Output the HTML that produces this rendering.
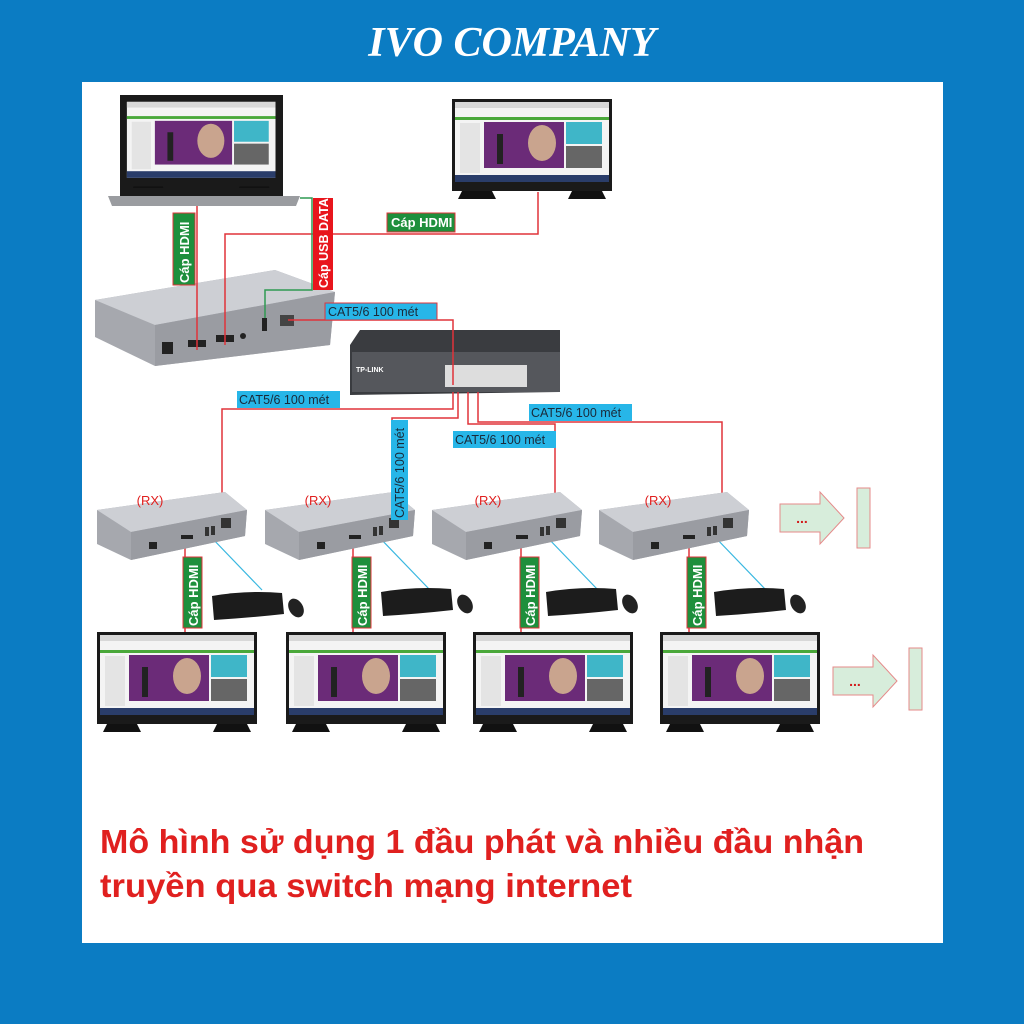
<!DOCTYPE html>
<html><head><meta charset="utf-8"><style>
html,body{margin:0;padding:0;background:#0b7cc3;}
body{width:1024px;height:1024px;position:relative;overflow:hidden;font-family:"Liberation Sans",sans-serif;}
</style></head><body>
<svg width="1024" height="1024" viewBox="0 0 1024 1024" xmlns="http://www.w3.org/2000/svg" style="position:absolute;left:0;top:0">
<defs>
<g id="mon">
 <rect x="0" y="0" width="160" height="92" fill="#1a1a1a"/>
 <rect x="3" y="3" width="154" height="80" fill="#f4f4f4"/>
 <rect x="3" y="3" width="154" height="6" fill="#d8d8d8"/>
 <rect x="3" y="18" width="154" height="3" fill="#4aa83a"/>
 <rect x="8" y="24" width="20" height="50" fill="#e4e4e4"/>
 <rect x="32" y="23" width="80" height="46" fill="#6b2b78"/>
 <ellipse cx="90" cy="44" rx="14" ry="18" fill="#c9a48e"/>
 <rect x="45" y="35" width="6" height="30" fill="#222"/>
 <rect x="114" y="23" width="36" height="22" fill="#3fb6c8"/>
 <rect x="114" y="47" width="36" height="22" fill="#666"/>
 <rect x="3" y="76" width="154" height="7" fill="#2a3d6a"/>
 <path d="M10 92 L40 92 L44 100 L6 100Z M120 92 L150 92 L154 100 L116 100Z" fill="#111"/>
</g>
<g id="rx">
 <polygon points="0,18 128,0 150,18 148,44 34,68 0,52" fill="#a6a8ae"/>
 <polygon points="0,18 128,0 150,18 34,40" fill="#cdcfd4"/>
 <polygon points="34,40 150,18 148,44 34,68" fill="#9a9ca2"/>
 <rect x="52" y="50" width="8" height="7" fill="#222"/>
 <rect x="84" y="43" width="12" height="4" fill="#222"/>
 <rect x="108" y="35" width="4" height="9" fill="#333"/>
 <rect x="114" y="34" width="4" height="9" fill="#333"/>
 <rect x="124" y="26" width="10" height="10" fill="#333"/>
</g>
<g id="kb">
 <path d="M0 6 Q35 0 70 3 L72 24 Q36 28 2 30Z" fill="#1c1c1c"/>
 <ellipse cx="84" cy="18" rx="7" ry="10" fill="#222" transform="rotate(-30 84 18)"/>
</g>
<g id="arr">
 <polygon points="0,12 40,12 40,0 64,26 40,52 40,40 0,40" fill="#d7eddb" stroke="#e58a8a" stroke-width="1"/>
 <text x="22" y="31" font-size="14" font-weight="bold" fill="#d21c1c" text-anchor="middle">...</text>
</g>
</defs>
<text x="512" y="56" text-anchor="middle" font-family="Liberation Serif,serif" font-size="42" font-weight="bold" font-style="italic" fill="#fff">IVO COMPANY</text>
<rect x="82" y="82" width="861" height="861" fill="#fff"/>

<!-- laptop -->
<rect x="120" y="95" width="163" height="98" fill="#1a1a1a"/>
<g transform="translate(124,99) scale(0.965,0.95)"><use href="#mon"/></g>
<rect x="120" y="188" width="163" height="8" fill="#1a1a1a"/>
<path d="M108 196 L300 196 L296 206 L112 206Z" fill="#9a9ca0"/>
<!-- top monitor -->
<use href="#mon" x="452" y="99" transform="translate(0,0)"/>

<!-- transmitter -->
<polygon points="95,300 275,270 335,292 330,345 155,366 95,337" fill="#a6a8ae"/>
<polygon points="95,300 275,270 335,292 155,325" fill="#cdcfd4"/>
<polygon points="155,325 335,292 330,345 155,366" fill="#9a9ca2"/>
<rect x="162" y="342" width="11" height="12" fill="#222"/>
<rect x="188" y="340" width="18" height="7" fill="#222"/>
<rect x="216" y="335" width="18" height="7" fill="#222"/>
<circle cx="243" cy="336" r="3" fill="#222"/>
<rect x="262" y="318" width="5" height="13" fill="#222"/>
<rect x="280" y="315" width="14" height="11" fill="#444"/>

<!-- switch -->
<polygon points="360,330 560,330 560,392 350,395 350,345" fill="#3a3c40"/>
<rect x="352" y="352" width="208" height="40" fill="#55575c"/>
<rect x="445" y="365" width="82" height="22" fill="#ddd"/>
<text x="356" y="372" font-size="7" fill="#fff" font-weight="bold">TP-LINK</text>

<!-- lines -->
<g fill="none" stroke="#e0333a" stroke-width="1.5">
 <path d="M197 206 V350"/>
 <path d="M225 345 V234 H538 V192"/>
 <path d="M288 320 H453 V385"/>
 <path d="M453 392 V409 H222 V518"/>
 <path d="M458 392 V418 H392 V525"/>
 <path d="M468 392 V424 H555 V520"/>
 <path d="M478 392 V422 H722 V520"/>
 <path d="M185 540 V632"/><path d="M353 540 V632"/><path d="M521 540 V632"/><path d="M689 540 V632"/>
</g>
<path d="M300 198 H312 V290 H265 V318" fill="none" stroke="#2f9a52" stroke-width="1.5"/>
<g stroke="#38b7e0" stroke-width="1.2">
 <line x1="210" y1="536" x2="262" y2="590"/><line x1="378" y1="536" x2="430" y2="590"/>
 <line x1="546" y1="536" x2="598" y2="590"/><line x1="714" y1="536" x2="766" y2="590"/>
</g>

<!-- RX boxes -->
<use href="#rx" x="97" y="492"/><use href="#rx" x="265" y="492"/><use href="#rx" x="432" y="492"/><use href="#rx" x="599" y="492"/>
<g fill="#e0201f" font-size="13" text-anchor="middle">
<text x="150" y="505">(RX)</text><text x="318" y="505">(RX)</text><text x="488" y="505">(RX)</text><text x="658" y="505">(RX)</text></g>
<use href="#kb" x="212" y="590"/><use href="#kb" x="381" y="586"/><use href="#kb" x="546" y="586"/><use href="#kb" x="714" y="586"/>

<!-- bottom monitors -->
<use href="#mon" x="97" y="632"/><use href="#mon" x="286" y="632"/><use href="#mon" x="473" y="632"/><use href="#mon" x="660" y="632"/>

<!-- arrows -->
<use href="#arr" x="780" y="492"/><rect x="857" y="488" width="13" height="60" fill="#d7eddb" stroke="#e58a8a"/>
<use href="#arr" x="833" y="655"/><rect x="909" y="648" width="13" height="62" fill="#d7eddb" stroke="#e58a8a"/>

<!-- labels -->
<g font-size="13" font-weight="bold" fill="#fff">
 <rect x="173" y="213" width="22" height="72" fill="#1e8f3c" stroke="#e0333a"/>
 <text transform="translate(189,283) rotate(-90)">Cáp HDMI</text>
 <rect x="313" y="198" width="20" height="92" fill="#e8151c"/>
 <text transform="translate(328,288) rotate(-90)" font-size="12.5">Cáp USB DATA</text>
 <rect x="387" y="213" width="68" height="19" fill="#1e8f3c" stroke="#e0333a"/>
 <text x="391" y="227">Cáp HDMI</text>
 <rect x="183" y="557" width="19" height="71" fill="#1e8f3c" stroke="#e0333a"/><text transform="translate(198,626) rotate(-90)">Cáp HDMI</text>
 <rect x="352" y="557" width="19" height="71" fill="#1e8f3c" stroke="#e0333a"/><text transform="translate(367,626) rotate(-90)">Cáp HDMI</text>
 <rect x="520" y="557" width="19" height="71" fill="#1e8f3c" stroke="#e0333a"/><text transform="translate(535,626) rotate(-90)">Cáp HDMI</text>
 <rect x="687" y="557" width="19" height="71" fill="#1e8f3c" stroke="#e0333a"/><text transform="translate(702,626) rotate(-90)">Cáp HDMI</text>
</g>
<g font-size="12.5" fill="#1a2a3a">
 <rect x="325" y="303" width="112" height="17" fill="#27b6e8" stroke="#e0333a"/><text x="328" y="316">CAT5/6 100 mét</text>
 <rect x="237" y="391" width="103" height="17" fill="#27b6e8"/><text x="239" y="404">CAT5/6 100 mét</text>
 <rect x="529" y="404" width="103" height="17" fill="#27b6e8"/><text x="531" y="417">CAT5/6 100 mét</text>
 <rect x="453" y="431" width="103" height="17" fill="#27b6e8"/><text x="455" y="444">CAT5/6 100 mét</text>
 <rect x="391" y="420" width="17" height="100" fill="#27b6e8"/><text transform="translate(404,518) rotate(-90)">CAT5/6 100 mét</text>
</g>

<g font-size="33" fill="#e0201f" font-weight="bold" font-family="Liberation Sans,sans-serif">
<text x="100" y="853" textLength="764" lengthAdjust="spacingAndGlyphs">Mô hình sử dụng 1 đầu phát và nhiều đầu nhận</text>
<text x="100" y="897" textLength="532" lengthAdjust="spacingAndGlyphs">truyền qua switch mạng internet</text>
</g>
</svg>
</body></html>
